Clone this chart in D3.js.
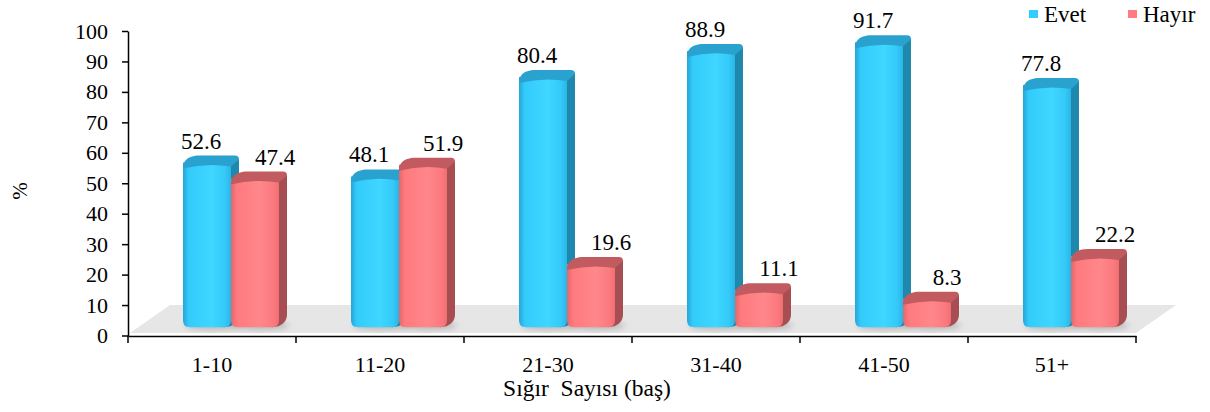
<!DOCTYPE html>
<html>
<head>
<meta charset="utf-8">
<script src="https://cdn.jsdelivr.net/npm/d3@7"></script>
<style>
  html, body { margin: 0; padding: 0; background: #fff; }
  #chart text { font-family: "Liberation Serif", Tinos, "Times New Roman", serif !important; }
</style>
</head>
<body>
<svg id="chart" width="1210" height="412"></svg>
<script>
// Herd size groups and the share (%) of answers per group
const categories = ["1-10", "11-20", "21-30", "31-40", "41-50", "51+"];
const seriesNames = ["Evet", "Hayır"];
const evetValues = [52.6, 48.1, 80.4, 88.9, 91.7, 77.8];
const hayirValues = [47.4, 51.9, 19.6, 11.1, 8.3, 22.2];
const yTickValues = [0, 10, 20, 30, 40, 50, 60, 70, 80, 90, 100];
const xTitle = "Sığır  Sayısı (baş)";
const yTitle = "%";

const FONT = "'Liberation Serif', Tinos, 'Times New Roman', serif";
const svg = d3.select("#chart");
const defs = svg.append("defs");

// Colour sets for the two series: front face gradient, side and top faces
const palette = {
  "Evet":  { stops: ["#25a6d6", "#33cbfb", "#3fd6ff", "#34c9f8", "#2cb5e6"], side: "#1f88ad", top: "#2aa2cf", legend: "#33ccff" },
  "Hayır": { stops: ["#e0676b", "#ff7a7e", "#ff878b", "#fb7a7e", "#ee6f73"], side: "#a64e52", top: "#c15b5f", legend: "#ff7c80" }
};

seriesNames.forEach((s, i) => {
  const g = defs.append("linearGradient").attr("id", "front" + i)
    .attr("x1", "0").attr("x2", "1").attr("y1", "0").attr("y2", "0");
  const offs = [0, 0.12, 0.6, 0.88, 1];
  palette[s].stops.forEach((c, k) => g.append("stop").attr("offset", offs[k]).attr("stop-color", c));
});
defs.append("filter").attr("id", "soft").attr("x", "-50%").attr("y", "-50%").attr("width", "200%").attr("height", "200%")
  .append("feGaussianBlur").attr("stdDeviation", 3);

// Scales: axis scale, and the front plane of the 3D bars
const x = d3.scaleBand().domain(categories).range([128, 1136]);
const inner = d3.scaleBand().domain(seriesNames).range([55, 151]);
const yAxisScale = d3.scaleLinear().domain([0, 100]).range([335.5, 31]);
const yBar = d3.scaleLinear().domain([0, 100]).range([327.3, 19.8]);

const depthX = 8, depthY = 10;

// Floor of the 3D plot area
const x0 = x.range()[0], x1 = x.range()[1];
const floorFront = 333, floorBack = 305;
svg.append("path")
  .attr("d", `M${x0 + 2},${floorFront} L${x1},${floorFront} L${x1 + 40},${floorBack} L${x0 + 42},${floorBack} Z`)
  .attr("fill", "#e6e6e6");

const rows = categories.map((c, i) => ({ cat: c, values: [evetValues[i], hayirValues[i]] }));

const bars = svg.append("g");
rows.forEach(row => {
  row.values.forEach((v, si) => {
    const s = seriesNames[si];
    const bx = x(row.cat) + inner(s);
    const w = inner.bandwidth();
    const top = yBar(v);
    const bot = yBar(0);
    const r = 7;
    const g = bars.append("g");

    // soft floor shadow
    g.append("ellipse")
      .attr("cx", bx + w / 2 + 6).attr("cy", bot - 2)
      .attr("rx", w / 2 + 4).attr("ry", 4)
      .attr("fill", "#000").attr("opacity", 0.22).attr("filter", "url(#soft)");

    // right side face
    g.append("path")
      .attr("d", `M${bx + w - 1},${top} L${bx + w + depthX},${top - depthY + 3} L${bx + w + depthX},${bot - depthY - 2} ` +
                 `Q${bx + w + depthX - 1},${bot - 1} ${bx + w - r},${bot} Z`)
      .attr("fill", palette[s].side);

    // front face with rounded lower corners
    g.append("path")
      .attr("d", `M${bx},${top - 3} L${bx + w},${top - 3} L${bx + w},${bot - r} Q${bx + w},${bot} ${bx + w - r},${bot} ` +
                 `L${bx + r},${bot} Q${bx},${bot} ${bx},${bot - r} Z`)
      .attr("fill", `url(#front${si})`);

    // top cap
    g.append("path")
      .attr("d", `M${bx},${top + 3} C${bx},${top - 3} ${bx + 3},${top - depthY} ${bx + depthX + 9},${top - depthY} ` +
                 `L${bx + w + depthX - 4},${top - depthY} Q${bx + w + depthX},${top - depthY} ${bx + w + depthX},${top - depthY + 4} ` +
                 `L${bx + w},${top + 1} Q${bx + w / 2},${top - 3} ${bx},${top + 3} Z`)
      .attr("fill", palette[s].top);
  });
});

// Value labels
const labels = svg.append("g").attr("text-anchor", "middle");
rows.forEach(row => {
  row.values.forEach((v, si) => {
    const s = seriesNames[si];
    const cx = x(row.cat) + inner(s) + inner.bandwidth() / 2 + (si === 0 ? -6 : 20);
    labels.append("text")
      .style("font-family", FONT).style("font-size", "23px")
      .attr("x", cx).attr("y", yBar(v) - 17)
      .text(v.toFixed(1));
  });
});

// Y axis
const yAxis = svg.append("g").attr("transform", `translate(${x0},0)`)
  .call(d3.axisLeft(yAxisScale).tickValues(yTickValues).tickSize(6).tickSizeOuter(0).tickPadding(14));
yAxis.attr("font-family", null).attr("font-size", null);
yAxis.select(".domain").attr("stroke", "#000").attr("stroke-width", 1.5);
yAxis.selectAll(".tick line").attr("stroke", "#000").attr("stroke-width", 1.5);
yAxis.selectAll(".tick text").style("font-family", FONT).style("font-size", "22px").attr("fill", "#000");

// X axis: labels centred in bands, ticks on band boundaries
const xAxisY = 336;
const xAxis = svg.append("g").attr("transform", `translate(0,${xAxisY})`)
  .call(d3.axisBottom(x).tickSize(0).tickSizeOuter(0).tickPadding(20));
xAxis.attr("font-family", null).attr("font-size", null);
xAxis.select(".domain").attr("stroke", "#000").attr("stroke-width", 1.5);
xAxis.selectAll(".tick text").style("font-family", FONT).style("font-size", "22px").attr("fill", "#000");
const boundaries = categories.map(c => x(c)).concat([x1]);
xAxis.selectAll(".btick").data(boundaries).join("line")
  .attr("class", "btick")
  .attr("x1", d => d).attr("x2", d => d).attr("y1", 0).attr("y2", 7)
  .attr("stroke", "#000").attr("stroke-width", 1.5);

// Axis titles
svg.append("text")
  .attr("x", 587).attr("y", 396).attr("text-anchor", "middle")
  .style("font-family", FONT).style("font-size", "23.5px")
  .style("white-space", "pre")
  .text(xTitle);
svg.append("text")
  .attr("transform", "translate(27,191) rotate(-90)").attr("text-anchor", "middle")
  .style("font-family", FONT).style("font-size", "21px")
  .text(yTitle);

// Legend
const legendX = [1029, 1128];
const legend = svg.append("g");
seriesNames.forEach((s, i) => {
  legend.append("rect").attr("x", legendX[i]).attr("y", 10).attr("width", 9).attr("height", 8).attr("fill", palette[s].legend);
  legend.append("text").attr("x", legendX[i] + 15).attr("y", 22)
    .style("font-family", FONT).style("font-size", "23px").text(s);
});
</script>
</body>
</html>
